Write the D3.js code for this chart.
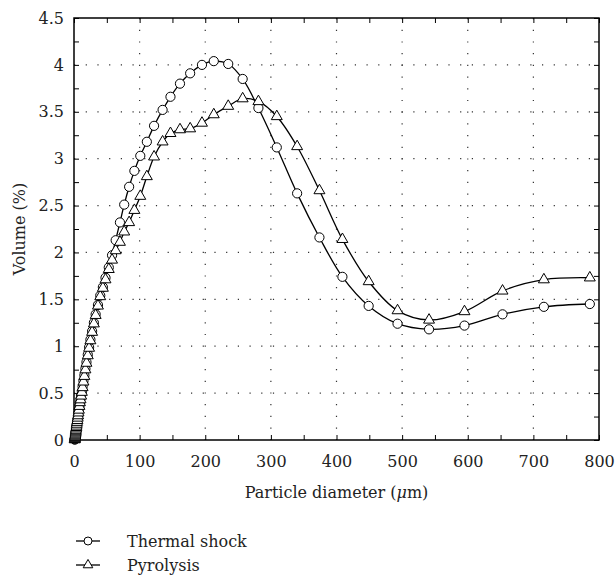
<!DOCTYPE html>
<html>
<head>
<meta charset="utf-8">
<script src="https://cdn.jsdelivr.net/npm/d3@7"></script>
<style>
  body { margin: 0; background: #fff; }
  svg text { font-family: "DejaVu Serif", serif; }
</style>
</head>
<body>
<script>
// particle diameter bins (µm)
var diameter = [1.1, 1.2, 1.3, 1.45, 1.6, 1.75, 1.9, 2.1, 2.3, 2.5, 2.7, 3.0, 3.3, 3.6, 3.9,
  4.3, 4.7, 5.2, 5.7, 6.3, 6.9, 7.5, 8.3, 9.1, 10, 10.9, 12, 13.1, 14.4, 15.8, 17.4, 19,
  21, 23, 25, 27.6, 30.3, 33, 36.5, 40, 44, 48, 53, 58, 63.5, 70, 76.5, 84, 92, 101,
  111, 122, 135, 147, 161.5, 177, 195, 213, 235, 257, 281, 309, 340, 374, 409, 449,
  493, 541, 595, 653, 716, 786];

var thermalShock = [0.004, 0.008, 0.013, 0.02, 0.027, 0.035, 0.045, 0.055, 0.066, 0.078, 0.09,
  0.105, 0.12, 0.135, 0.15, 0.17, 0.19, 0.21, 0.235, 0.26, 0.29, 0.33, 0.36, 0.40, 0.44,
  0.48, 0.52, 0.57, 0.63, 0.69, 0.76, 0.83, 0.91, 0.99, 1.07, 1.16, 1.25, 1.34, 1.44,
  1.54, 1.63, 1.73, 1.84, 1.97, 2.13, 2.32, 2.51, 2.70, 2.87, 3.03, 3.18, 3.35, 3.52,
  3.66, 3.80, 3.91, 4.00, 4.04, 4.01, 3.85, 3.54, 3.12, 2.63, 2.16, 1.74, 1.43, 1.24,
  1.18, 1.22, 1.34, 1.42, 1.45];

var pyrolysis = [0.004, 0.008, 0.013, 0.02, 0.027, 0.035, 0.045, 0.055, 0.066, 0.078, 0.09,
  0.105, 0.12, 0.135, 0.15, 0.17, 0.19, 0.21, 0.235, 0.26, 0.29, 0.32, 0.36, 0.40, 0.43,
  0.47, 0.51, 0.56, 0.62, 0.68, 0.75, 0.82, 0.90, 0.98, 1.06, 1.15, 1.24, 1.33, 1.43,
  1.53, 1.62, 1.71, 1.82, 1.92, 2.02, 2.11, 2.22, 2.32, 2.45, 2.60, 2.81, 3.02, 3.18,
  3.27, 3.31, 3.32, 3.38, 3.47, 3.56, 3.64, 3.61, 3.45, 3.13, 2.66, 2.14, 1.69, 1.38,
  1.28, 1.37, 1.59, 1.71, 1.73];

var xTicks = [0, 100, 200, 300, 400, 500, 600, 700, 800];
var yTicks = [0, 0.5, 1, 1.5, 2, 2.5, 3, 3.5, 4, 4.5];
var seriesNames = ["Thermal shock", "Pyrolysis"];

var width = 615,
    height = 575,
    margin = {top: 18, right: 16, bottom: 135, left: 74},
    iwidth = width - margin.left - margin.right,
    iheight = height - margin.top - margin.bottom,
    fontSize = 16;

var xScale = d3.scaleLinear().domain([0, 800]).range([0, iwidth]);
var yScale = d3.scaleLinear().domain([0, 4.5]).range([iheight, 0]);

var svg = d3.select("body").append("svg")
    .attr("width", width)
    .attr("height", height);

var g = svg.append("g")
    .attr("transform", "translate(" + margin.left + "," + margin.top + ")");

// dotted grid
g.append("g").selectAll("line")
    .data(xTicks.slice(1, -1))
    .enter().append("line")
    .attr("x1", function(d) { return xScale(d); })
    .attr("x2", function(d) { return xScale(d); })
    .attr("y1", 0).attr("y2", iheight)
    .attr("stroke", "#333").attr("stroke-width", 1.2)
    .attr("stroke-dasharray", "1.2,10.5");

g.append("g").selectAll("line")
    .data(yTicks.slice(1, -1))
    .enter().append("line")
    .attr("y1", function(d) { return yScale(d); })
    .attr("y2", function(d) { return yScale(d); })
    .attr("x1", 0).attr("x2", iwidth)
    .attr("stroke", "#333").attr("stroke-width", 1.2)
    .attr("stroke-dasharray", "1.2,10.5");

// inside ticks on all four sides
var xMinor = d3.range(0, 801, 50);
var yMinor = d3.range(0, 4.51, 0.25);

g.append("g").attr("transform", "translate(0," + iheight + ")")
    .call(d3.axisBottom(xScale).tickValues(xMinor).tickSize(-5).tickFormat(""));
g.append("g")
    .call(d3.axisTop(xScale).tickValues(xMinor).tickSize(-5).tickFormat(""));
g.append("g")
    .call(d3.axisLeft(yScale).tickValues(yMinor).tickSize(-5).tickFormat(""));
g.append("g").attr("transform", "translate(" + iwidth + ",0)")
    .call(d3.axisRight(yScale).tickValues(yMinor).tickSize(-5).tickFormat(""));
g.selectAll(".domain").remove();
g.selectAll(".tick line").attr("stroke", "#000").attr("stroke-width", 1);

// tick labels
var xLab = g.append("g").attr("transform", "translate(0," + iheight + ")")
    .call(d3.axisBottom(xScale).tickValues(xTicks).tickSize(0).tickPadding(16)
      .tickFormat(function(d) { return d; }));
var yLab = g.append("g")
    .call(d3.axisLeft(yScale).tickValues(yTicks).tickSize(0).tickPadding(10)
      .tickFormat(function(d) { return String(d); }));
[xLab, yLab].forEach(function(a) {
    a.select(".domain").remove();
    a.attr("font-family", null);
    a.selectAll("text").attr("font-size", fontSize).attr("fill", "#222");
});

// frame
g.append("rect")
    .attr("width", iwidth).attr("height", iheight)
    .attr("fill", "none").attr("stroke", "#000").attr("stroke-width", 1.5);

// series
var line = d3.line()
    .x(function(d) { return xScale(d[0]); })
    .y(function(d) { return yScale(d[1]); })
    .curve(d3.curveCatmullRom.alpha(0.5));

var thermalData = diameter.map(function(d, i) { return [d, thermalShock[i]]; });
var pyroData = diameter.map(function(d, i) { return [d, pyrolysis[i]]; });

g.append("path").datum(thermalData)
    .attr("d", line).attr("fill", "none").attr("stroke", "#000").attr("stroke-width", 1.3);
g.append("path").datum(pyroData)
    .attr("d", line).attr("fill", "none").attr("stroke", "#000").attr("stroke-width", 1.3);

g.append("g").selectAll("circle")
    .data(thermalData)
    .enter().append("circle")
    .attr("cx", function(d) { return xScale(d[0]); })
    .attr("cy", function(d) { return yScale(d[1]); })
    .attr("r", 4.6)
    .attr("fill", "#fff").attr("stroke", "#000").attr("stroke-width", 1);

var tri = d3.symbol().type(d3.symbolTriangle).size(52);
g.append("g").selectAll("path")
    .data(pyroData)
    .enter().append("path")
    .attr("d", tri)
    .attr("transform", function(d) {
      return "translate(" + xScale(d[0]) + "," + yScale(d[1]) + ")";
    })
    .attr("fill", "#fff").attr("stroke", "#000").attr("stroke-width", 1);

// axis titles
var xt = svg.append("text")
    .attr("x", margin.left + iwidth / 2)
    .attr("y", 498)
    .attr("text-anchor", "middle")
    .attr("font-size", fontSize).attr("fill", "#222");
xt.append("tspan").text("Particle diameter (");
xt.append("tspan").attr("font-style", "italic").text("μ");
xt.append("tspan").text("m)");

svg.append("text")
    .attr("transform", "translate(25," + (margin.top + iheight / 2) + ") rotate(-90)")
    .attr("text-anchor", "middle")
    .attr("font-size", fontSize).attr("fill", "#222")
    .text("Volume (%)");

// legend
var legend = svg.append("g");
seriesNames.forEach(function(name, i) {
    var y = 541 + i * 24;
    var row = legend.append("g");
    row.append("line")
      .attr("x1", 76).attr("x2", 100).attr("y1", y).attr("y2", y)
      .attr("stroke", "#000").attr("stroke-width", 1.3);
    if (i === 0) {
      row.append("circle").attr("cx", 88).attr("cy", y).attr("r", 4)
        .attr("fill", "#fff").attr("stroke", "#000").attr("stroke-width", 1);
    } else {
      row.append("path").attr("d", d3.symbol().type(d3.symbolTriangle).size(40))
        .attr("transform", "translate(88," + y + ")")
        .attr("fill", "#fff").attr("stroke", "#000").attr("stroke-width", 1);
    }
    row.append("text")
      .attr("x", 127).attr("y", y + 6)
      .attr("font-size", fontSize).attr("fill", "#222")
      .text(name);
});
</script>
</body>
</html>
